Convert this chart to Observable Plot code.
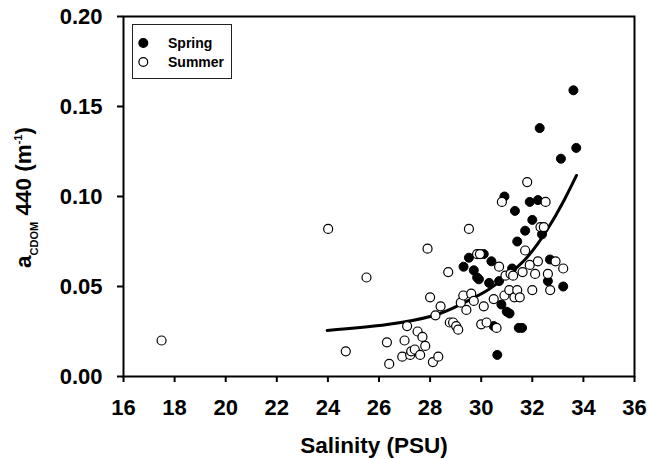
<!DOCTYPE html>
<html><head><meta charset="utf-8">
<script src="https://cdn.jsdelivr.net/npm/d3@7"></script>
<script src="https://cdn.jsdelivr.net/npm/@observablehq/plot@0.6"></script>
<style>
body{margin:0;background:#fff;}
#wrap{position:relative;width:649px;height:459px;}
</style></head><body><div id="wrap"></div>
<script>
// Spring (filled circles)
const springSal = [29.31,29.52,29.71,29.84,29.91,30.10,30.31,30.40,30.49,30.63,30.70,30.79,30.91,31.00,31.11,31.21,31.32,31.41,31.47,31.60,31.72,31.90,32.00,32.22,32.29,32.38,32.61,32.69,33.12,33.21,33.61,33.72];
const springA   = [0.061,0.066,0.059,0.055,0.054,0.068,0.052,0.064,0.028,0.012,0.053,0.040,0.100,0.036,0.035,0.060,0.092,0.075,0.027,0.027,0.081,0.097,0.087,0.098,0.138,0.079,0.053,0.065,0.121,0.050,0.159,0.127];
// Summer (open circles)
const summerSal = [17.49,24.01,24.70,25.51,26.31,26.40,26.91,27.00,27.10,27.22,27.26,27.40,27.51,27.61,27.70,27.81,27.90,28.00,28.11,28.21,28.32,28.41,28.71,28.77,28.90,29.02,29.10,29.20,29.30,29.42,29.52,29.61,29.71,29.84,29.95,30.00,30.10,30.21,30.49,30.60,30.70,30.81,30.91,30.95,31.10,31.15,31.25,31.30,31.41,31.51,31.62,31.72,31.80,31.90,32.00,32.11,32.22,32.32,32.45,32.52,32.61,32.70,32.91,33.21];
const summerA   = [0.020,0.082,0.014,0.055,0.019,0.007,0.011,0.020,0.028,0.012,0.014,0.015,0.025,0.012,0.022,0.017,0.071,0.044,0.008,0.034,0.011,0.039,0.058,0.030,0.030,0.028,0.026,0.041,0.045,0.037,0.082,0.046,0.042,0.068,0.068,0.029,0.039,0.030,0.043,0.027,0.061,0.097,0.045,0.056,0.048,0.057,0.056,0.044,0.048,0.044,0.058,0.070,0.108,0.062,0.048,0.057,0.064,0.083,0.083,0.097,0.057,0.048,0.064,0.060];
// Fitted curve
const fitSal = [23.97,26.32,28.15,29.19,30.23,31.02,31.80,32.58,33.24,33.73];
const fitA   = [0.0256,0.0289,0.0339,0.0400,0.0478,0.0561,0.0663,0.0815,0.0978,0.1117];
const xTicks = [16,18,20,22,24,26,28,30,32,34,36];
const yTicks = [0,0.05,0.10,0.15,0.20];

const spring = springSal.map((s,i)=>({s, a: springA[i]}));
const summer = summerSal.map((s,i)=>({s, a: summerA[i]}));
const fit = fitSal.map((s,i)=>({s, a: fitA[i]}));

const FONT = "'Liberation Sans', Arial, Helvetica, sans-serif";
const plot = Plot.plot({
  width: 649, height: 459,
  marginLeft: 123, marginRight: 15, marginTop: 16, marginBottom: 83,
  style: {fontFamily: FONT, fontSize: "22px", fontWeight: "bold", background: "white", color: "black", overflow: "visible"},
  x: {domain: [16,36]},
  y: {domain: [0,0.2]},
  marks: [
    Plot.frame({stroke: "black", strokeWidth: 2}),
    Plot.axisX({ticks: xTicks, tickSize: 6, tickPadding: 17, strokeWidth: 2, label: null, fontSize: 22, fontWeight: "bold", tickFormat: d => String(d)}),
    Plot.axisY({ticks: yTicks, tickSize: 6, tickPadding: 15, strokeWidth: 2, label: null, fontSize: 22, fontWeight: "bold", tickFormat: d3.format(".2f")}),
    Plot.line(fit, {x: "s", y: "a", curve: "natural", stroke: "black", strokeWidth: 3}),
    Plot.dot(spring, {x: "s", y: "a", r: 4.5, fill: "black", stroke: "black", strokeWidth: 1}),
    Plot.dot(summer, {x: "s", y: "a", r: 4.5, fill: "white", stroke: "black", strokeWidth: 1.2})
  ]
});
document.getElementById("wrap").appendChild(plot);

const svg = d3.select(plot);
const xs = plot.scale("x");

// x axis title
svg.append("text").attr("x", 374).attr("y", 453).attr("text-anchor", "middle")
  .attr("font-family", FONT).attr("font-size", 22.5).attr("font-weight", "bold").attr("fill", "black")
  .text("Salinity (PSU)");

// y axis title with subscript and superscript
const yt = svg.append("text").attr("transform", "rotate(-90)")
  .attr("x", -268).attr("y", 31).attr("text-anchor", "start")
  .attr("font-family", FONT).attr("font-size", 22.5).attr("font-weight", "bold").attr("fill", "black");
yt.append("tspan").text("a");
yt.append("tspan").attr("font-size", 11).attr("dy", 7).text("CDOM");
yt.append("tspan").attr("dy", -7).text(" 440 (m");
yt.append("tspan").attr("font-size", 11).attr("dy", -9).text("-1");
yt.append("tspan").attr("dy", 9).text(")");

// legend
const lg = svg.append("g").attr("font-family", FONT).attr("font-weight", "bold").attr("font-size", 14).attr("text-anchor", "start");
lg.append("rect").attr("x", 132.5).attr("y", 24.5).attr("width", 99).attr("height", 54)
  .attr("fill", "white").attr("stroke", "#222").attr("stroke-width", 1);
const items = [{label: "Spring", fill: "black"}, {label: "Summer", fill: "white"}];
items.forEach((it, i) => {
  const yy = 43 + i * 19;
  lg.append("circle").attr("cx", 143.3).attr("cy", yy).attr("r", 4.4)
    .attr("fill", it.fill).attr("stroke", "black").attr("stroke-width", 1.2);
  lg.append("text").attr("x", 168).attr("y", yy + 5.2).attr("text-anchor", "start").attr("fill", "black").text(it.label);
});
</script>
</body></html>
